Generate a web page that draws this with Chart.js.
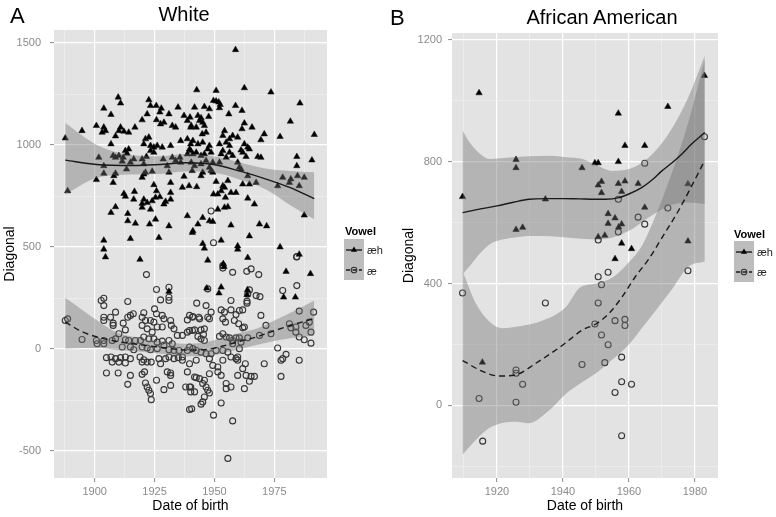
<!DOCTYPE html>
<html><head><meta charset="utf-8">
<script src="https://cdn.jsdelivr.net/npm/chart.js@4.4.1/dist/chart.umd.min.js"></script>
<style>
html,body{margin:0;padding:0;background:#fff;}
body{width:776px;height:517px;position:relative;overflow:hidden;font-family:"Liberation Sans",Arial,sans-serif;}
.c{position:absolute;top:0;}
.t{position:absolute;line-height:1;white-space:nowrap;color:#000;}
</style></head><body>
<canvas id="ca" class="c" style="left:0" width="390" height="517"></canvas>
<canvas id="cb" class="c" style="left:390px" width="386" height="517"></canvas>
<div class="t" style="left:10px;top:5px;font-size:22px">A</div>
<div class="t" style="left:84px;width:200px;text-align:center;top:4px;font-size:20px">White</div>
<div class="t" style="left:390px;top:7px;font-size:22px">B</div>
<div class="t" style="left:502px;width:200px;text-align:center;top:7px;font-size:20px">African American</div>
<div class="t" style="left:345px;top:226px;font-size:11px;font-weight:bold">Vowel</div>
<div class="t" style="left:367px;top:245px;font-size:11px;color:#222">æh</div>
<div class="t" style="left:367px;top:266px;font-size:11px;color:#222">æ</div>
<div class="t" style="left:734px;top:229px;font-size:11px;font-weight:bold">Vowel</div>
<div class="t" style="left:757px;top:247px;font-size:11px;color:#222">æh</div>
<div class="t" style="left:757px;top:267px;font-size:11px;color:#222">æ</div>
<script>
// ---------- Panel A: White ----------
const whiteAeh = [
[1909.8,1234],[1910.8,1205],[1903.8,1180],[1906.8,1149],[1922.6,1221],[1923.3,1193],[1925.7,1193],[1927.8,1180],[1927.2,1161],[1934.8,1185],[1937.3,1144],[1931.0,1152],[1921.9,1152],[1919.8,1123],[1925.8,1123],[1927.5,1103],[1928.9,1111],[1932.4,1095],[1933.8,1087],[1939.8,1136],[1938.7,1120],[1940.1,1087],[1900.7,1095],[1894.7,1070],[1903.8,1087],[1904.5,1070],[1903.1,1062],[1910.8,1087],[1910.1,1070],[1912.2,1067],[1914.2,1062],[1916.8,1087],[1908.7,1044],[1906.8,1005],[1921.2,1030],[1922.6,1038],[1920.5,1005],[1923.3,997],[1924.7,989],[1926.1,997],[1928.2,989],[1931.7,997],[1935.9,1021],[1938.7,1030],[1940.1,1005],[1887.7,1034],[1914.2,980],[1912.8,972],[1913.5,959],[1907.7,948],[1908.7,939],[1910.1,948],[1901.7,939],[1911.9,939],[1916.3,931],[1919.8,931],[1921.6,943],[1923.3,972],[1924.7,964],[1928.6,931],[1932.4,939],[1933.8,923],[1935.6,939],[1938.7,956],[1940.1,972],[1903.8,898],[1911.5,920],[1914.9,915],[1920.5,907],[1930.3,898],[1935.9,915],[1913.3,882],[1903.8,861],[1900.7,830],[1908.0,849],[1908.7,861],[1907.7,816],[1919.8,841],[1920.5,857],[1921.2,866],[1924.0,871],[1931.0,866],[1937.3,846],[1939.4,800],[1936.6,792],[1924.7,805],[1931.7,816],[1925.8,775],[1888.7,775],[1912.2,762],[1912.8,748],[1916.6,772],[1916.3,734],[1920.5,734],[1919.8,713],[1921.9,718],[1924.0,726],[1923.3,685],[1925.4,743],[1927.2,746],[1928.9,710],[1929.6,723],[1931.7,734],[1931.7,767],[1919.8,694],[1908.7,697],[1906.8,669],[1913.8,664],[1913.8,628],[1917.0,616],[1922.9,612],[1925.4,636],[1931.0,603],[1938.7,653],[1940.8,571],[1914.9,541],[1926.8,546],[1903.8,533],[1903.8,489],[1904.5,451],[1918.9,439],
[1958.8,1467],[1942.6,1270],[1950.7,1267],[1962.5,1280],[1973.6,1259],[1985.7,1205],[1949.6,1218],[1950.7,1215],[1951.8,1210],[1952.4,1198],[1952.1,1182],[1941.7,1185],[1945.8,1188],[1947.9,1177],[1958.8,1193],[1961.5,1169],[1956.0,1152],[1943.1,1144],[1944.4,1133],[1943.8,1120],[1945.1,1111],[1947.6,1139],[1945.8,1095],[1940.3,1095],[1942.4,1087],[1962.5,1107],[1961.5,1079],[1965.7,1087],[1981.7,1116],[1946.5,1062],[1944.9,1054],[1954.2,1070],[1953.5,1046],[1957.6,1046],[1959.7,1038],[1956.3,1030],[1970.8,1054],[1969.4,1025],[1977.4,1041],[1991.7,1051],[1941.0,1021],[1943.1,1005],[1945.1,1013],[1947.9,997],[1948.6,964],[1947.2,980],[1952.1,1005],[1954.9,1013],[1956.3,997],[1962.5,1005],[1963.9,989],[1964.6,980],[1939.6,980],[1941.0,956],[1942.4,964],[1944.4,948],[1945.8,956],[1952.8,956],[1953.5,972],[1956.3,964],[1957.6,948],[1954.9,939],[1961.1,975],[1961.8,964],[1963.2,943],[1968.1,943],[1969.4,939],[1984.4,943],[1990.7,926],[1984.4,898],[1940.3,915],[1941.7,898],[1944.4,907],[1946.5,923],[1949.3,915],[1947.9,890],[1952.1,915],[1959.7,915],[1960.4,890],[1940.7,874],[1945.1,866],[1944.4,849],[1948.6,874],[1949.3,866],[1961.1,882],[1963.9,849],[1978.5,841],[1981.9,833],[1984.7,849],[1987.5,841],[1981.3,816],[1985.4,800],[1976.4,800],[1942.6,795],[1950.7,821],[1955.6,825],[1953.5,800],[1954.2,792],[1952.8,775],[1961.8,808],[1964.6,808],[1967.4,816],[1949.6,759],[1951.4,759],[1956.9,767],[1959.0,767],[1954.6,743],[1963.9,739],[1966.7,710],[1955.6,697],[1954.2,694],[1951.4,685],[1987.5,656],[1945.1,644],[1947.9,628],[1949.3,625],[1943.1,612],[1941.0,579],[1956.9,607],[1968.8,612],[1971.8,603],[1952.8,533],[1945.1,517],[1945.8,494],[1964.6,554],[1959.7,505],[1959.7,489],[1977.4,500],[1985.4,464],[1963.9,448],[1947.2,435],
[1953.7,418],[1954.0,404],[1979.9,380],[1990.1,369],[1931.0,282],[1946.8,298],[1952.8,303],[1951.9,274],[1963.8,290],[1963.6,266],[1978.9,254],[1983.8,254]
];
const whiteAe = [
[1887.7,140],[1888.7,148],[1894.7,47],[1921.6,365],[1925.8,292],[1931.0,303],[1931.0,254],[1931.0,238],[1927.5,241],[1913.8,233],[1902.7,238],[1903.8,249],[1903.8,213],[1908.7,181],[1903.8,156],[1903.8,140],[1906.6,156],[1907.7,127],[1907.7,116],[1911.9,127],[1912.8,94],[1913.8,156],[1914.9,165],[1916.1,173],[1920.5,178],[1919.8,156],[1921.2,140],[1923.3,140],[1925.0,197],[1925.8,173],[1928.2,165],[1928.9,148],[1931.7,140],[1932.0,116],[1933.1,99],[1919.8,116],[1921.9,99],[1924.0,83],[1924.7,132],[1926.1,108],[1928.2,108],[1910.1,75],[1908.7,50],[1907.3,42],[1900.7,42],[1901.0,26],[1903.8,26],[1903.8,42],[1912.8,46],[1914.2,42],[1917.0,42],[1919.1,42],[1920.5,59],[1922.6,50],[1924.7,50],[1926.1,34],[1928.2,39],[1931.0,42],[1932.4,26],[1934.5,67],[1936.6,67],[1938.7,83],[1940.8,91],[1938.7,143],[1940.8,156],[1911.5,10],[1914.9,10],[1916.3,-3],[1919.8,10],[1921.9,5],[1923.3,-3],[1926.1,2],[1928.9,18],[1931.0,-3],[1933.1,-7],[1935.2,-7],[1936.6,-39],[1938.7,-7],[1904.9,-42],[1906.8,-39],[1908.7,-47],[1910.8,-42],[1912.8,-39],[1914.9,-47],[1918.9,-39],[1920.5,-52],[1907.3,-64],[1910.1,-64],[1912.8,-68],[1919.8,-64],[1921.9,-64],[1923.6,-64],[1926.8,-47],[1927.5,-72],[1929.6,-47],[1931.0,-39],[1933.1,-47],[1934.9,-42],[1936.6,-55],[1938.7,-112],[1904.9,-117],[1909.8,-117],[1914.9,-129],[1919.8,-124],[1920.8,-112],[1930.3,-112],[1931.7,-129],[1931.7,-117],[1913.8,-173],[1921.2,-166],[1921.9,-186],[1922.6,-202],[1923.3,-218],[1923.6,-248],[1925.8,-153],[1928.9,-199],[1931.7,-178],[1938.0,-186],[1940.1,-186],[1940.1,-210],[1940.5,-293],
[1953.5,409],[1953.5,397],[1957.6,376],[1963.5,381],[1965.3,393],[1968.5,365],[1984.4,453],[1978.5,287],[1984.4,311],[1947.2,295],[1964.6,290],[1963.9,270],[1967.4,262],[1969.0,257],[1963.6,225],[1963.6,235],[1942.6,225],[1946.5,213],[1956.9,238],[1952.8,192],[1954.2,181],[1956.9,192],[1959.0,169],[1960.4,189],[1961.8,192],[1948.6,181],[1947.2,156],[1947.9,148],[1941.0,160],[1943.5,156],[1943.8,148],[1939.6,165],[1953.5,148],[1954.6,132],[1958.3,140],[1960.1,124],[1961.8,104],[1962.5,108],[1969.4,165],[1971.5,116],[1985.4,186],[1991.4,181],[1989.6,132],[1988.2,116],[1981.3,124],[1981.9,104],[1984.0,108],[1984.0,83],[1985.4,59],[1987.5,46],[1990.3,83],[1990.3,29],[1939.6,91],[1941.7,94],[1944.4,94],[1945.8,99],[1945.4,72],[1944.4,50],[1943.1,62],[1945.8,42],[1952.1,62],[1953.5,75],[1954.9,59],[1956.3,55],[1957.6,42],[1959.0,55],[1960.4,55],[1961.1,34],[1963.9,55],[1968.8,67],[1973.6,75],[1939.6,10],[1941.0,2],[1942.4,-7],[1944.4,-15],[1946.5,-23],[1948.6,-23],[1950.7,-7],[1953.5,-7],[1955.6,-15],[1956.9,-39],[1959.7,-39],[1960.4,2],[1957.6,26],[1939.6,-72],[1942.4,-55],[1947.9,-47],[1953.5,-55],[1959.0,-47],[1959.7,-55],[1962.9,-72],[1970.8,-72],[1976.4,5],[1979.9,-26],[1978.5,-47],[1977.8,-55],[1985.4,-55],[1977.8,-134],[1949.3,-80],[1951.4,-88],[1951.4,-112],[1947.9,-121],[1952.8,-129],[1941.7,-137],[1942.4,-140],[1943.8,-145],[1945.8,-153],[1961.8,-96],[1963.2,-129],[1965.3,-134],[1966.7,-134],[1959.7,-129],[1964.6,-158],[1939.6,-186],[1941.7,-210],[1945.1,-169],[1946.5,-186],[1947.2,-202],[1945.8,-235],[1947.9,-215],[1954.9,-169],[1956.9,-186],[1954.9,-194],[1962.5,-194],[1939.6,-296],[1945.1,-259],[1944.4,-270],[1952.8,-264],[1949.6,-324],[1957.6,-352],[1955.6,-536],
[1948.6,677],[1949.6,521],[1984.3,451]
];
const whiteAehFitYear = [1887.7,1900.7,1916,1927.2,1938.4,1949.6,1960.7,1971.9,1981.7,1991.7];
const whiteAehFit     = [926,905,900,905,913,905,872,832,791,737];
const whiteAehUpper   = [1108,1002,950,945,957,945,915,884,873,867];
const whiteAehLower   = [758,839,856,858,870,865,830,780,705,636];
const whiteAeFitYear  = [1887.7,1895.1,1902.1,1909.1,1916,1923,1930,1938.4,1946.8,1953.5,1960.7,1967.4,1975,1983,1991.7];
const whiteAeFit      = [132,83,56,38,26,15,5,-5,-2,15,38,59,90,120,150];
const whiteAeUpper    = [251,189,132,83,60,45,35,26,35,55,80,99,140,185,238];
const whiteAeLower    = [2,5,5,-5,-10,-18,-25,-35,-35,-20,0,20,40,55,67];
const whiteXMajor = [1900,1925,1950,1975];
const whiteXMinor = [1887.5,1912.5,1937.5,1962.5,1987.5];
const whiteYMajor = [-500,0,500,1000,1500];
const whiteYMinor = [-250,250,750,1250];

// ---------- Panel B: African American ----------
const aaAeh = [[1909.6,685],[1914.6,1026],[1925.8,807],[1925.8,780],[1925.8,577],[1927.8,584],[1934.7,677],[1945.8,780],[1949.7,796],[1950.7,796],[1951.7,735],[1950.7,723],[1951.7,698],[1956.8,959],[1956.8,800],[1956.8,728],[1958.8,736],[1957.8,702],[1958.8,853],[1964.8,853],[1962.8,728],[1964.8,650],[1971.8,981],[1982.9,1083],[1977.9,727],[1977.9,539],[1953.7,629],[1953.7,597],[1955.8,615],[1957.8,595],[1950.7,553],[1952.7,558],[1957.8,532],[1960.8,514],[1955.8,481],[1956.9,585],[1915.6,141]];
const aaAe = [[1964.8,795],[1956.8,677],[1971.8,648],[1962.8,618],[1964.8,595],[1956.8,569],[1950.7,543],[1982.9,882],[1909.6,369],[1934.7,336],[1950.7,422],[1953.7,437],[1951.7,396],[1950.7,336],[1949.7,267],[1955.8,278],[1958.8,282],[1958.8,262],[1951.7,231],[1953.7,199],[1957.8,158],[1952.7,140],[1945.8,134],[1957.8,77],[1960.8,69],[1955.8,42],[1957.8,-100],[1925.8,116],[1925.8,105],[1927.8,69],[1914.6,22],[1925.8,10],[1915.7,-118],[1977.9,442]];
const aaAehFitYear = [1909.6,1915,1920,1925,1929.8,1935,1940,1945,1950,1953,1957,1960,1964,1967,1970,1973,1976,1979,1983];
const aaAehFit     = [633,645,655,667,677,679,679,678,677,677,682,694,716,740,770,796,825,858,896];
const aaAehBandYear = [1909.6,1912,1915,1918,1922,1926,1930,1936,1941,1946,1950,1955,1960,1966,1972,1978,1983];
const aaAehUpper    = [902,860,825,809,812,816,818,820,815,809,790,770,776,814,891,1012,1149];
const aaAehLower    = [430,460,500,530,545,552,556,555,551,547,545,551,573,617,655,666,661];
const aaAeFitYear = [1909.6,1915.7,1920.7,1925.8,1931.8,1940,1946,1950,1954,1958,1962,1966,1970,1975,1979,1983];
const aaAeFit     = [147,111,96,100,138,198,248,267,302,357,423,480,550,639,720,805];
const aaAeBandYear = [1909.6,1913.6,1917.7,1921.7,1925.8,1929.8,1935,1941,1945,1950,1955,1960,1964,1968,1973,1978,1983];
const aaAeUpper    = [440,335,275,253,258,265,283,324,385,400,420,470,525,620,763,930,1135];
const aaAeLower    = [-163,-114,-75,-58,-54,-59,-25,39,70,105,150,200,255,310,380,455,472];
const aaXMajor = [1920,1940,1960,1980];
const aaXMinor = [1910,1930,1950,1970];
const aaYMajor = [0,400,800,1200];
const aaYMinor = [-200,200,600,1000];

const FF = "'Liberation Sans', Arial, sans-serif";
const xy = (xs, ys) => xs.map((x, i) => ({x, y: ys[i]}));
const pts = arr => arr.map(p => ({x: p[0], y: p[1]}));

const panelBg = {
  id: 'panelBg',
  beforeDraw(chart) {
    const {ctx, chartArea: a} = chart;
    ctx.save(); ctx.fillStyle = '#e3e3e3';
    ctx.fillRect(a.left, a.top, a.right - a.left, a.bottom - a.top);
    ctx.restore();
  }
};
const vkey = {
  id: 'vkey',
  afterDraw(chart, args, o) {
    const ctx = chart.ctx;
    ctx.save();
    ctx.fillStyle = '#bdbdbd';
    ctx.fillRect(o.x, o.y, 20, 41);
    const cx = o.x + 10;
    const rows = [[o.y + 11, [], 't'], [o.y + 31, [4, 2.5], 'c']];
    rows.forEach(([cy, dash, shape]) => {
      ctx.setLineDash(dash);
      ctx.strokeStyle = '#1a1a1a'; ctx.lineWidth = 1.4;
      ctx.beginPath(); ctx.moveTo(o.x + 2, cy); ctx.lineTo(o.x + 18, cy); ctx.stroke();
      ctx.setLineDash([]);
      if (shape === 't') {
        ctx.fillStyle = '#000'; ctx.beginPath();
        ctx.moveTo(cx, cy - 3.6); ctx.lineTo(cx + 3.1, cy + 1.8); ctx.lineTo(cx - 3.1, cy + 1.8);
        ctx.closePath(); ctx.fill();
      } else {
        ctx.strokeStyle = '#333'; ctx.lineWidth = 1.1; ctx.beginPath();
        ctx.arc(cx, cy, 2.8, 0, Math.PI * 2); ctx.stroke();
      }
    });
    ctx.restore();
  }
};

function axis(o) {
  const isMajor = v => o.major.some(m => Math.abs(m - v) < 1e-6);
  return {
    type: 'linear', position: o.pos, min: o.min, max: o.max,
    afterBuildTicks: s => { s.ticks = o.major.concat(o.minor).sort((a, b) => a - b).map(v => ({value: v})); },
    afterFit: s => { if (o.pos === 'left') s.width = o.size; else s.height = o.size; },
    border: {display: false},
    grid: {
      color: c => isMajor(c.tick.value) ? '#ffffff' : '#f1f1f1',
      lineWidth: c => isMajor(c.tick.value) ? 1.2 : 0.6,
      tickColor: c => isMajor(c.tick.value) ? '#8a8a8a' : 'rgba(0,0,0,0)',
      tickWidth: 1, tickLength: 4, drawTicks: true
    },
    ticks: {
      autoSkip: false, maxRotation: 0, padding: o.pad, color: '#8a8a8a',
      font: {size: 11, family: FF},
      callback: v => isMajor(v) ? String(v) : ''
    },
    title: {display: true, text: o.title, color: '#000', font: {size: 14, family: FF}, padding: o.tpad}
  };
}

function lineDs(data, dash, order) {
  return {type: 'line', data, borderColor: '#1a1a1a', borderWidth: 1.4, borderDash: dash,
    pointRadius: 0, fill: false, cubicInterpolationMode: 'monotone', order};
}
function bandDs(data, fillTarget) {
  return {type: 'line', data, borderWidth: 0, borderColor: 'rgba(0,0,0,0)', pointRadius: 0,
    backgroundColor: 'rgba(110,110,110,0.4)', fill: fillTarget, cubicInterpolationMode: 'monotone', order: 1};
}
function makeChart(id, p) {
  return new Chart(document.getElementById(id), {
    type: 'scatter',
    data: {datasets: [
      lineDs(xy(p.aehFitYear, p.aehFit), [], 0),
      lineDs(xy(p.aeFitYear, p.aeFit), [6, 4], 0),
      bandDs(xy(p.aehBandYear, p.aehUpper), 3),
      bandDs(xy(p.aehBandYear, p.aehLower), false),
      bandDs(xy(p.aeBandYear, p.aeUpper), 5),
      bandDs(xy(p.aeBandYear, p.aeLower), false),
      {data: pts(p.aeh), pointStyle: 'triangle', pointRadius: 3.7, backgroundColor: '#000', borderColor: '#111', borderWidth: 0.5, order: 2},
      {data: pts(p.ae), pointStyle: 'circle', pointRadius: 3, backgroundColor: 'rgba(0,0,0,0)', borderColor: '#363636', borderWidth: 1.1, order: 2}
    ]},
    options: {
      responsive: false, animation: false, events: [], devicePixelRatio: 1,
      layout: {padding: {left: 0, top: p.top, right: p.right, bottom: 0}},
      plugins: {legend: {display: false}, tooltip: {enabled: false}, vkey: p.key},
      scales: {
        x: axis({pos: 'bottom', min: p.xmin, max: p.xmax, major: p.xMajor, minor: p.xMinor, size: 39, pad: 3, title: 'Date of birth', tpad: {top: 0, bottom: 2}}),
        y: axis({pos: 'left', min: p.ymin, max: p.ymax, major: p.yMajor, minor: p.yMinor, size: p.ysize, pad: p.ypad, title: 'Diagonal', tpad: {top: p.ytpad, bottom: 0}})
      }
    },
    plugins: [panelBg, vkey]
  });
}

makeChart('ca', {
  aeh: whiteAeh, ae: whiteAe,
  aehFitYear: whiteAehFitYear, aehFit: whiteAehFit, aehBandYear: whiteAehFitYear, aehUpper: whiteAehUpper, aehLower: whiteAehLower,
  aeFitYear: whiteAeFitYear, aeFit: whiteAeFit, aeBandYear: whiteAeFitYear, aeUpper: whiteAeUpper, aeLower: whiteAeLower,
  xmin: 1883, xmax: 1997, ymin: -632, ymax: 1564,
  xMajor: whiteXMajor, xMinor: whiteXMinor, yMajor: whiteYMajor, yMinor: whiteYMinor,
  top: 30, right: 63, ysize: 54, ypad: 9, ytpad: 2, key: {x: 344, y: 239}
});
makeChart('cb', {
  aeh: aaAeh, ae: aaAe,
  aehFitYear: aaAehFitYear, aehFit: aaAehFit, aehBandYear: aaAehBandYear, aehUpper: aaAehUpper, aehLower: aaAehLower,
  aeFitYear: aaAeFitYear, aeFit: aaAeFit, aeBandYear: aaAeBandYear, aeUpper: aaAeUpper, aeLower: aaAeLower,
  xmin: 1906.4, xmax: 1987, ymin: -239, ymax: 1223,
  xMajor: aaXMajor, xMinor: aaXMinor, yMajor: aaYMajor, yMinor: aaYMinor,
  top: 33, right: 58, ysize: 62, ypad: 6, ytpad: 11, key: {x: 344, y: 241}
});
</script>
</body></html>
